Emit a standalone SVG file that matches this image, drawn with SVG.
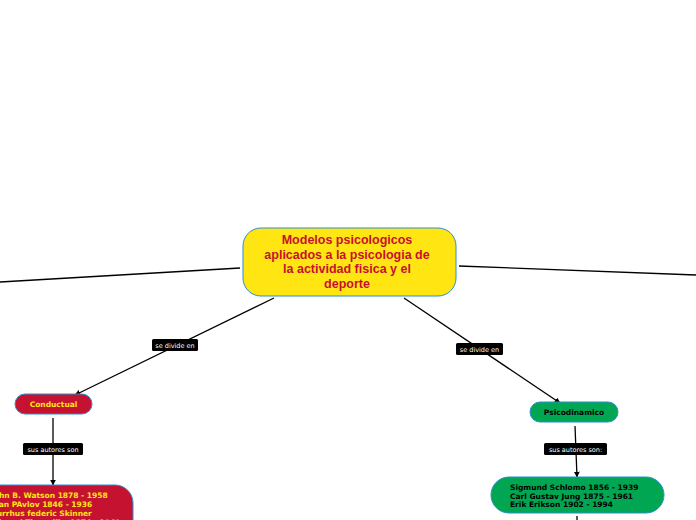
<svg xmlns="http://www.w3.org/2000/svg" width="696" height="520" viewBox="0 0 696 520">
<defs>
<style>
.edge{stroke:#000;stroke-width:1.3;fill:none}
.lbl rect{fill:#000}
.lbl text{fill:#fff;font-family:"DejaVu Sans",sans-serif;font-size:6.5px;text-anchor:middle}
.node{stroke:#2a8fd0;stroke-width:1}
.t{font-family:"DejaVu Sans",sans-serif;font-weight:bold;font-size:7.5px}
</style>
<marker id="ah" viewBox="0 0 10 10" refX="9" refY="5" markerWidth="6" markerHeight="6" orient="auto" markerUnits="userSpaceOnUse">
<path d="M0,0 L10,5 L0,10 z" fill="#000"/>
</marker>
</defs>
<rect width="696" height="520" fill="#fff"/>
<g id="connectors">
<line class="edge" x1="240" y1="268" x2="0" y2="282"/>
<line class="edge" x1="459" y1="266" x2="696" y2="275"/>
<line class="edge" x1="274" y1="298" x2="75" y2="395" marker-end="url(#ah)"/>
<line class="edge" x1="404" y1="298" x2="560" y2="403" marker-end="url(#ah)"/>
<line class="edge" x1="53" y1="418" x2="53" y2="485" marker-end="url(#ah)"/>
<line class="edge" x1="575" y1="426" x2="577" y2="477" marker-end="url(#ah)"/>
<line class="edge" x1="577" y1="516" x2="577" y2="520"/>
<g class="lbl"><rect x="152" y="339" width="46" height="12" rx="1.5"/><text x="175" y="347.5">se divide en</text></g>
<g class="lbl"><rect x="456" y="343" width="47" height="12" rx="1.5"/><text x="479.5" y="351.5">se divide en</text></g>
<g class="lbl"><rect x="23" y="443" width="60" height="12" rx="1.5"/><text x="53" y="451.5">sus autores son</text></g>
<g class="lbl"><rect x="544" y="443" width="63" height="12" rx="1.5"/><text x="575.5" y="451.5">sus autores son:</text></g>
</g>
<g id="central">
<rect class="node" x="243" y="228" width="213" height="68" rx="18" fill="#ffe612"/>
<g font-family="Liberation Sans,Arial,sans-serif" font-weight="bold" font-size="12.5px" fill="#c8102e" text-anchor="middle">
<text x="347" y="244">Modelos psicologicos</text>
<text x="347" y="259">aplicados a la psicologia de</text>
<text x="347" y="273">la actividad fisica y el</text>
<text x="347" y="288">deporte</text>
</g>
</g>
<g id="conductual">
<rect class="node" x="15" y="394" width="77" height="20" rx="10" fill="#c41230"/>
<text class="t" x="53.5" y="406.7" fill="#ffe612" text-anchor="middle">Conductual</text>
</g>
<g id="psicodinamico">
<rect class="node" x="530" y="402" width="88" height="20" rx="10" fill="#00a651"/>
<text class="t" x="574" y="414.7" fill="#000" text-anchor="middle">Psicodinamico</text>
</g>
<g id="autores-conductual">
<rect class="node" x="-30" y="485" width="163" height="60" rx="18" fill="#c41230"/>
<g class="t" fill="#ffe612">
<text x="-9" y="498">John B. Watson 1878 - 1958</text>
<text x="-9" y="507">Ivan PAvlov 1846 - 1936</text>
<text x="-9" y="516">Burrhus federic Skinner</text>
<text x="-9" y="525">Edward Thorndike 1874 - 1949</text>
</g>
</g>
<g id="autores-psicodinamico">
<rect class="node" x="491" y="477" width="173" height="36" rx="18" fill="#00a651"/>
<g class="t" fill="#000">
<text x="510" y="490">Sigmund Schlomo 1856 - 1939</text>
<text x="510" y="498.5">Carl Gustav Jung 1875 - 1961</text>
<text x="510" y="507">Erik Erikson 1902 - 1994</text>
</g>
</g>
</svg>
